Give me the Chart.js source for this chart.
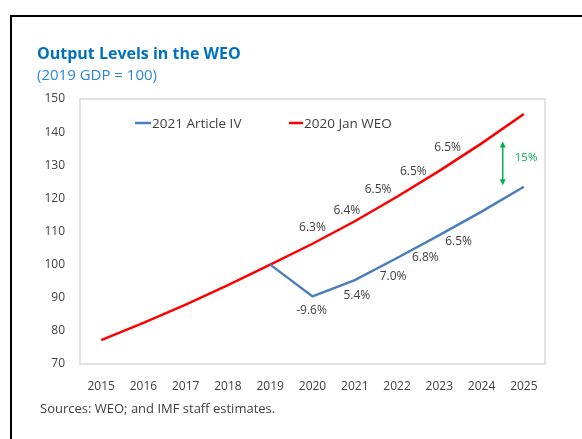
<!DOCTYPE html>
<html>
<head>
<meta charset="utf-8">
<script src="https://cdn.jsdelivr.net/npm/chart.js@4/dist/chart.umd.min.js"></script>
<style>
html,body{margin:0;padding:0;background:#fff;}
#wrap{position:relative;width:582px;height:439px;}
</style>
</head>
<body>
<div id="wrap"><canvas id="c" width="582" height="439"></canvas></div>
<script>
// ---- data ----
const years = ['2015','2016','2017','2018','2019','2020','2021','2022','2023','2024','2025'];
const janWEO = [77.2, 82.4, 87.9, 93.8, 100.0, 106.3, 113.1, 120.5, 128.3, 136.6, 145.5];
const articleIV = [null, null, null, null, 100.0, 90.4, 95.3, 102.0, 108.9, 116.0, 123.5];
const janWEOGrowth = ['', '', '', '', '', '6.3%', '6.4%', '6.5%', '6.5%', '6.5%', ''];
const articleIVGrowth = ['', '', '', '', '', '-9.6%', '5.4%', '7.0%', '6.8%', '6.5%', ''];
const yTicks = [70, 80, 90, 100, 110, 120, 130, 140, 150];
const gapRange = [124, 137.2];
const gapLabel = '15%';
const seriesNames = ['2021 Article IV', '2020 Jan WEO'];
const titleText = 'Output Levels in the WEO';
const subtitleText = '(2019 GDP = 100)';
const sourceText = 'Sources: WEO; and IMF staff estimates.';

// ---- style (label offsets in px) ----
const redLabelOffsets = [null,null,null,null,null,[0,-16],[-8,-11],[-19,-7],[-26,1],[-34,4],null];
const blueLabelOffsets = [null,null,null,null,null,[-1,14],[2,15],[-4,19],[-14,22],[-23,30],null];
const FONT = '"Open Sans", "Noto Sans", sans-serif';
const TXT = '#404040';
const RED = '#FF0000';
const BLUE = '#4A7EBB';
const GREEN = '#00B050';

const decor = {
  id: 'decor',
  beforeDraw(chart) {
    const ctx = chart.ctx;
    ctx.save();
    ctx.fillStyle = '#fff';
    ctx.fillRect(0, 0, chart.width, chart.height);
    // outer frame
    ctx.strokeStyle = '#000';
    ctx.lineWidth = 2;
    ctx.beginPath();
    ctx.moveTo(11, 439);
    ctx.lineTo(11, 16);
    ctx.lineTo(582, 16);
    ctx.stroke();
    // plot border
    const a = chart.chartArea;
    ctx.strokeStyle = '#D9D9D9';
    ctx.lineWidth = 1.5;
    ctx.strokeRect(a.left, a.top, a.right - a.left, a.bottom - a.top);
    ctx.restore();
  },
  afterDraw(chart) {
    const ctx = chart.ctx;
    const xs = chart.scales.x, ys = chart.scales.y;
    ctx.save();
    // titles
    ctx.textBaseline = 'alphabetic';
    ctx.textAlign = 'left';
    ctx.fillStyle = '#0070C0';
    ctx.font = 'bold 16px ' + FONT;
    ctx.fillText(titleText, 37, 59);
    ctx.fillStyle = '#2A86D6';
    ctx.font = '15px ' + FONT;
    ctx.fillText(subtitleText, 37, 80);
    ctx.fillStyle = TXT;
    ctx.font = '13px ' + FONT;
    ctx.fillText(sourceText, 40, 413);
    // legend
    ctx.textBaseline = 'middle';
    const ly = 123;
    ctx.lineWidth = 2.5;
    ctx.strokeStyle = BLUE;
    ctx.beginPath(); ctx.moveTo(135, ly); ctx.lineTo(151, ly); ctx.stroke();
    ctx.strokeStyle = RED;
    ctx.beginPath(); ctx.moveTo(289, ly); ctx.lineTo(303, ly); ctx.stroke();
    ctx.fillStyle = TXT;
    ctx.font = '13.5px ' + FONT;
    ctx.fillText(seriesNames[0], 152, ly + 1);
    ctx.fillText(seriesNames[1], 304, ly + 1);
    // data labels
    ctx.font = '12px ' + FONT;
    ctx.textAlign = 'center';
    years.forEach((yr, i) => {
      if (janWEOGrowth[i] && redLabelOffsets[i]) {
        const o = redLabelOffsets[i];
        ctx.fillText(janWEOGrowth[i], xs.getPixelForValue(i) + o[0], ys.getPixelForValue(janWEO[i]) + o[1]);
      }
      if (articleIVGrowth[i] && blueLabelOffsets[i]) {
        const o = blueLabelOffsets[i];
        ctx.fillText(articleIVGrowth[i], xs.getPixelForValue(i) + o[0], ys.getPixelForValue(articleIV[i]) + o[1]);
      }
    });
    // gap arrow
    const n = years.length;
    const ax = (xs.getPixelForValue(n - 2) + xs.getPixelForValue(n - 1)) / 2;
    const yTop = ys.getPixelForValue(gapRange[1]);
    const yBot = ys.getPixelForValue(gapRange[0]);
    ctx.strokeStyle = GREEN;
    ctx.fillStyle = GREEN;
    ctx.lineWidth = 1.5;
    ctx.beginPath(); ctx.moveTo(ax, yTop + 4); ctx.lineTo(ax, yBot - 4); ctx.stroke();
    ctx.beginPath(); ctx.moveTo(ax, yTop); ctx.lineTo(ax - 3, yTop + 6); ctx.lineTo(ax + 3, yTop + 6); ctx.closePath(); ctx.fill();
    ctx.beginPath(); ctx.moveTo(ax, yBot); ctx.lineTo(ax - 3, yBot - 6); ctx.lineTo(ax + 3, yBot - 6); ctx.closePath(); ctx.fill();
    ctx.font = '11.5px ' + FONT;
    ctx.textAlign = 'left';
    ctx.fillText(gapLabel, ax + 12, (yTop + yBot) / 2 - 6);
    ctx.restore();
  }
};

new Chart(document.getElementById('c'), {
  type: 'line',
  data: {
    labels: years,
    datasets: [
      { label: seriesNames[0], data: articleIV, borderColor: BLUE, borderWidth: 2.5, pointRadius: 0, tension: 0, fill: false },
      { label: seriesNames[1], data: janWEO, borderColor: RED, borderWidth: 2.5, pointRadius: 0, tension: 0, fill: false }
    ]
  },
  options: {
    responsive: false,
    animation: false,
    devicePixelRatio: 1,
    layout: { padding: { top: 99, right: 37, left: 0, bottom: 0 } },
    plugins: { legend: { display: false }, tooltip: { enabled: false }, title: { display: false } },
    scales: {
      x: {
        offset: true,
        grid: { display: false, drawTicks: false },
        border: { display: false },
        ticks: { color: TXT, font: { family: FONT, size: 12 }, padding: 15, maxRotation: 0, autoSkip: false },
        afterFit(s) { s.height = 75; }
      },
      y: {
        min: 70, max: 150,
        afterBuildTicks(s) { s.ticks = yTicks.map(v => ({ value: v })); },
        grid: { display: false, drawTicks: false },
        border: { display: false },
        ticks: { color: TXT, font: { family: FONT, size: 12 }, padding: 15 },
        afterFit(s) { s.width = 80; }
      }
    }
  },
  plugins: [decor]
});
</script>
</body>
</html>
